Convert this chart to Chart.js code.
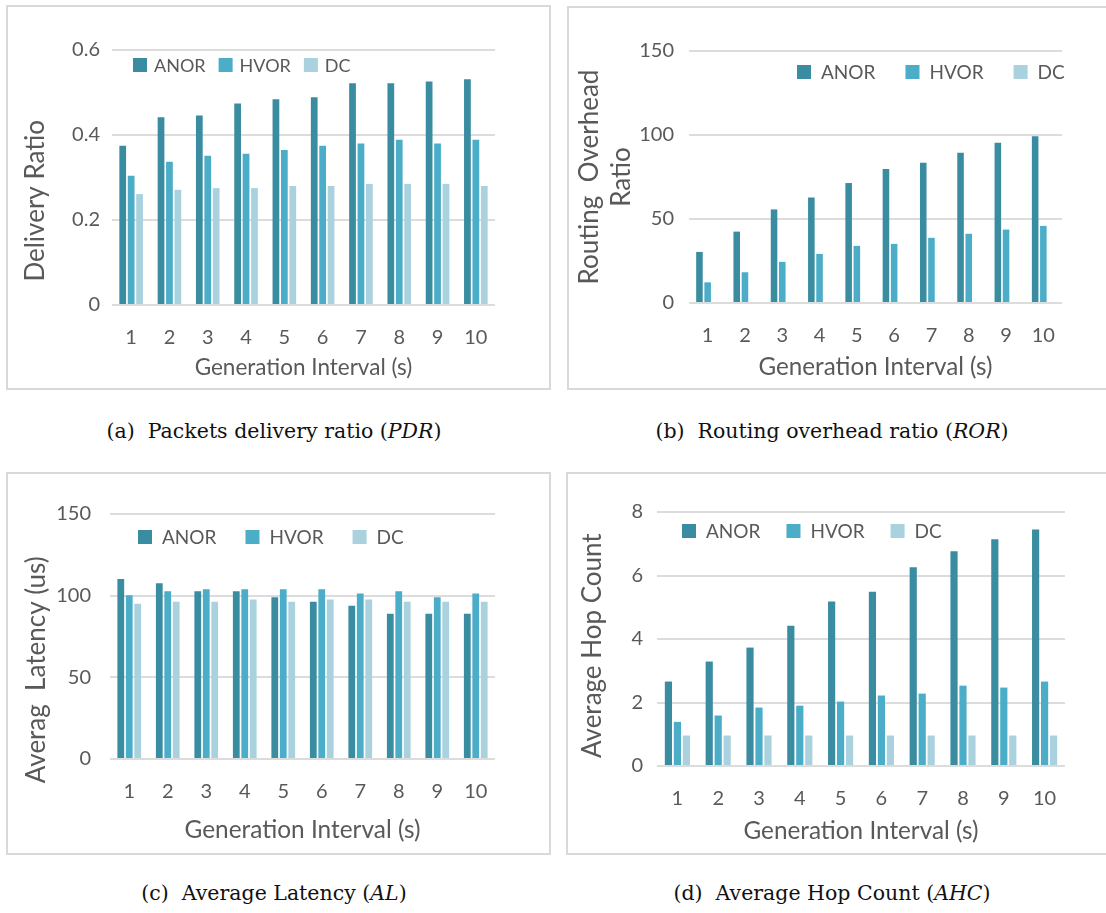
<!DOCTYPE html>
<html>
<head>
<meta charset="utf-8">
<script src="https://cdn.jsdelivr.net/npm/chart.js@4.4.0/dist/chart.umd.min.js"></script>
<style>
  body { margin: 0; background: #ffffff; width: 1106px; height: 913px; position: relative; overflow: hidden; }
  .panel { position: absolute; border: 2px solid #d9d9d9; box-sizing: border-box; background: #fff; }
  .panel canvas { position: absolute; left: 0; top: 0; }
  .caption { position: absolute; width: 540px; text-align: center; font-family: 'DejaVu Serif', serif; font-size: 20.5px; line-height: 24px; color: #111; }
</style>
</head>
<body>
<div class="panel" style="left:6px; top:5px; width:545px; height:385px;"><canvas id="chartA" width="541" height="381"></canvas></div>
<div class="panel" style="left:567px; top:6px; width:545px; height:384px;"><canvas id="chartB" width="541" height="380"></canvas></div>
<div class="panel" style="left:6px; top:472px; width:545px; height:383px;"><canvas id="chartC" width="541" height="379"></canvas></div>
<div class="panel" style="left:566px; top:472px; width:545px; height:383px;"><canvas id="chartD" width="541" height="379"></canvas></div>

<div class="caption" style="left:4px; top:419px;">(a)&nbsp; Packets delivery ratio (<i>PDR</i>)</div>
<div class="caption" style="left:562px; top:419px;">(b)&nbsp; Routing overhead ratio (<i>ROR</i>)</div>
<div class="caption" style="left:4px; top:881px;">(c)&nbsp; Average Latency (<i>AL</i>)</div>
<div class="caption" style="left:562px; top:881px;">(d)&nbsp; Average Hop Count (<i>AHC</i>)</div>

<script>
// Categories and series names
const categories = ['1', '2', '3', '4', '5', '6', '7', '8', '9', '10'];
const seriesNames = ['ANOR', 'HVOR', 'DC'];
const seriesColors = ['#3a8ca1', '#4badc7', '#a9d1de'];

// (a) Packets delivery ratio
const pdrAnor = [0.375, 0.442, 0.446, 0.474, 0.484, 0.489, 0.522, 0.522, 0.526, 0.531];
const pdrHvor = [0.304, 0.337, 0.351, 0.356, 0.365, 0.375, 0.380, 0.389, 0.380, 0.389];
const pdrDc = [0.261, 0.271, 0.275, 0.275, 0.280, 0.280, 0.285, 0.285, 0.285, 0.280];
const pdrTicks = [0, 0.2, 0.4, 0.6];

// (b) Routing overhead ratio (DC has no overhead bars)
const rorAnor = [30.4, 42.5, 55.7, 62.8, 71.4, 79.7, 83.5, 89.5, 95.4, 99.2];
const rorHvor = [12.3, 18.3, 24.5, 29.2, 34.0, 35.2, 38.8, 41.2, 43.7, 45.9];
const rorDc = [0, 0, 0, 0, 0, 0, 0, 0, 0, 0];
const rorTicks = [0, 50, 100, 150];

// (c) Average latency
const alAnor = [110.2, 107.6, 102.7, 102.7, 99.0, 96.3, 93.9, 89.0, 89.0, 89.0];
const alHvor = [100.2, 102.7, 103.9, 103.9, 103.9, 103.9, 101.4, 102.7, 99.0, 101.4];
const alDc = [95.1, 96.3, 96.3, 97.6, 96.3, 97.6, 97.6, 96.3, 96.3, 96.3];
const alTicks = [0, 50, 100, 150];

// (d) Average hop count
const ahcAnor = [2.66, 3.29, 3.73, 4.42, 5.18, 5.49, 6.26, 6.76, 7.14, 7.45];
const ahcHvor = [1.39, 1.59, 1.84, 1.90, 2.03, 2.22, 2.28, 2.53, 2.47, 2.66];
const ahcDc = [0.96, 0.96, 0.96, 0.96, 0.96, 0.96, 0.96, 0.96, 0.96, 0.96];
const ahcTicks = [0, 2, 4, 6, 8];

const textColor = '#595959';
Chart.defaults.font.family = 'Lato';
Chart.defaults.color = textColor;

// Legend drawn inside the plot, like the office chart
const insideLegend = {
    id: 'insideLegend',
    afterDraw(chart, args, opts) {
        const ctx = chart.ctx;
        ctx.save();
        ctx.font = opts.fontSize + 'px Lato';
        ctx.textBaseline = 'middle';
        ctx.textAlign = 'left';
        let x = opts.x;
        chart.data.datasets.forEach(ds => {
            ctx.fillStyle = ds.backgroundColor;
            ctx.fillRect(x, opts.y - 7, 14, 14);
            ctx.fillStyle = textColor;
            ctx.fillText(ds.label, x + opts.textGap, opts.y + 1);
            x += opts.textGap + ctx.measureText(ds.label).width + opts.itemGap;
        });
        ctx.restore();
    }
};

function makeChart(id, values, ticks, yTitle, lay) {
    const ctx = document.getElementById(id).getContext('2d');
    return new Chart(ctx, {
        type: 'bar',
        data: {
            labels: categories,
            datasets: values.map((v, i) => ({
                label: seriesNames[i],
                data: v,
                backgroundColor: seriesColors[i],
                categoryPercentage: 0.66,
                barPercentage: 0.8
            }))
        },
        options: {
            responsive: false,
            animation: false,
            devicePixelRatio: 1,
            layout: { padding: { left: 0, top: lay.top, right: lay.right, bottom: 0 } },
            plugins: {
                legend: { display: false },
                tooltip: { enabled: false },
                insideLegend: lay.legend
            },
            scales: {
                x: {
                    grid: { display: false },
                    border: { display: false },
                    ticks: { padding: lay.xTickPad, font: { size: 20 }, color: textColor },
                    title: {
                        display: true,
                        text: 'Generation Interval (s)',
                        font: { size: lay.xTitleSize },
                        color: textColor,
                        padding: { top: 0, bottom: lay.xTitlePad }
                    },
                    afterFit: s => { s.height = lay.xHeight; }
                },
                y: {
                    min: ticks[0],
                    max: ticks[ticks.length - 1],
                    ticks: { stepSize: ticks[1] - ticks[0], padding: lay.yTickPad, font: { size: 20 }, color: textColor },
                    grid: { color: '#dcdcdc', lineWidth: 2, drawTicks: false },
                    border: { display: false },
                    title: {
                        display: true,
                        text: yTitle,
                        font: { size: 26, lineHeight: lay.yLineHeight || 1.2 },
                        color: textColor,
                        padding: { top: lay.yTitlePad, bottom: 0 }
                    },
                    afterFit: s => { s.width = lay.left; }
                }
            }
        },
        plugins: [insideLegend]
    });
}

makeChart('chartA', [pdrAnor, pdrHvor, pdrDc], pdrTicks, 'Delivery Ratio       ', {
    left: 104, right: 54, top: 43, xHeight: 83,
    yTickPad: 12, yTitlePad: 12, xTickPad: 13, xTitlePad: 7, xTitleSize: 22.5,
    legend: { x: 125, y: 58, fontSize: 18, textGap: 21, itemGap: 13 }
});

makeChart('chartB', [rorAnor, rorHvor, rorDc], rorTicks, ['Routing  Overhead', 'Ratio'], {
    left: 120, right: 48, top: 43, xHeight: 85, yLineHeight: 1.23,
    yTickPad: 15, yTitlePad: 5, xTickPad: 13, xTitlePad: 6, xTitleSize: 24.2,
    legend: { x: 228, y: 64, fontSize: 19, textGap: 24, itemGap: 30 }
});

makeChart('chartC', [alAnor, alHvor, alDc], alTicks, 'Averag  Latency (us)          ', {
    left: 102, right: 54, top: 40, xHeight: 94,
    yTickPad: 19, yTitlePad: 13, xTickPad: 13, xTitlePad: 8, xTitleSize: 24.4,
    legend: { x: 130, y: 63, fontSize: 19, textGap: 24, itemGap: 29 }
});

makeChart('chartD', [ahcAnor, ahcHvor, ahcDc], ahcTicks, 'Average Hop Count  ', {
    left: 89, right: 44, top: 38, xHeight: 87,
    yTickPad: 14, yTitlePad: 9, xTickPad: 13, xTitlePad: 7, xTitleSize: 24.3,
    legend: { x: 114, y: 57, fontSize: 19, textGap: 24, itemGap: 26 }
});
</script>
</body>
</html>
